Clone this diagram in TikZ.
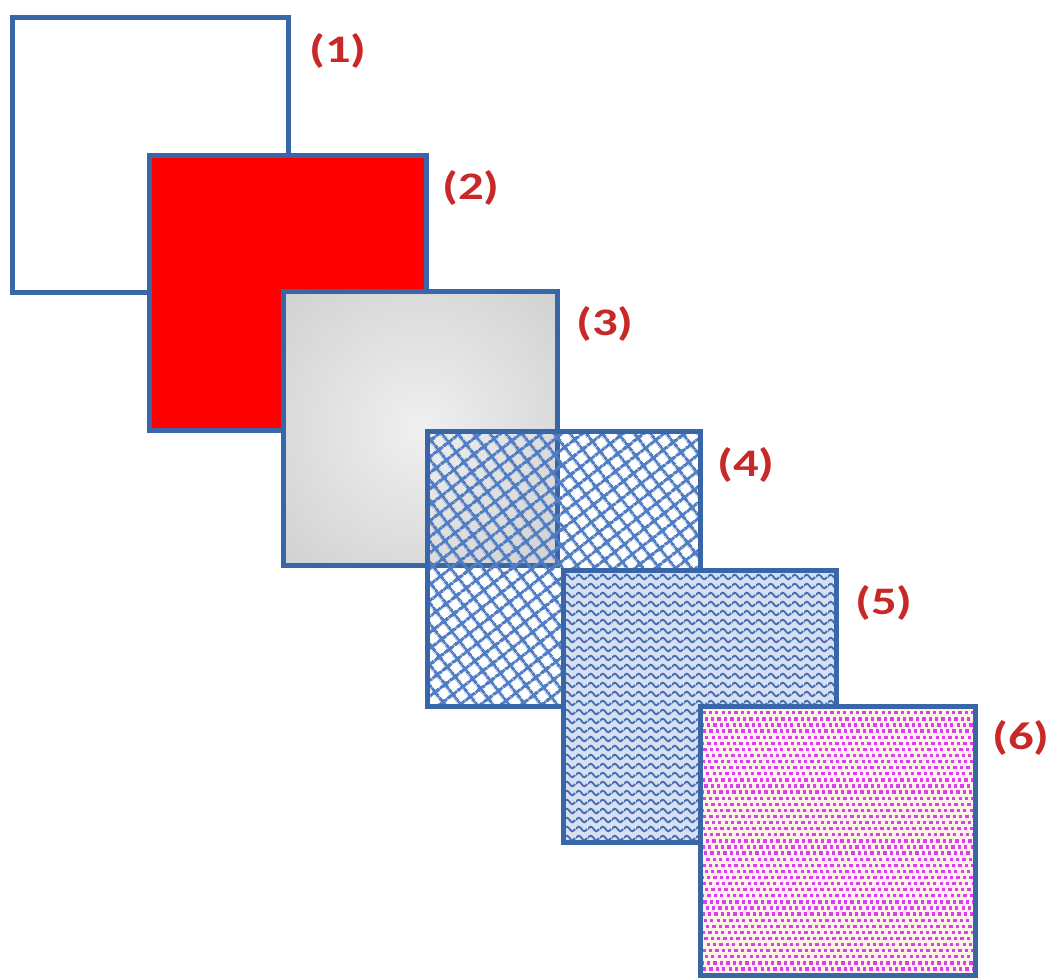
\documentclass[tikz,border=0pt]{standalone}
\usepackage{fontspec}
\usepackage{graphicx}
\setmainfont{Carlito}
\usetikzlibrary{patterns.meta}
\definecolor{bord}{RGB}{56,102,168}
\definecolor{labc}{RGB}{200,40,40}
\definecolor{hatchc}{RGB}{80,125,195}
\definecolor{wavebg}{RGB}{214,224,240}
\definecolor{wavec}{RGB}{70,110,178}
\definecolor{dotbg}{RGB}{255,242,232}
\definecolor{dotc}{RGB}{220,62,240}
\pgfdeclareradialshading{sqthreeshade}{\pgfpoint{0bp}{0bp}}{color(0bp)=(white!94!black); color(50bp)=(white!77!black); color(71bp)=(white!72!black)}
\tikzdeclarepattern{
  name=myhatch, type=uncolored,
  bottom left={(0pt,0pt)}, top right={(12.5pt,12.5pt)},
  tile size={(12.5pt,12.5pt)},
  tile transformation={rotate=38},
  code={
    \pgfsetlinewidth{3.2pt}
    \pgfpathmoveto{\pgfpoint{0pt}{6.25pt}}\pgfpathlineto{\pgfpoint{12.5pt}{6.25pt}}
    \pgfpathmoveto{\pgfpoint{6.25pt}{0pt}}\pgfpathlineto{\pgfpoint{6.25pt}{12.5pt}}
    \pgfusepath{stroke}
  }
}
\tikzdeclarepattern{
  name=mywave, type=uncolored,
  bottom left={(0pt,0pt)}, top right={(12pt,8.5pt)},
  tile size={(12pt,8.5pt)},
  code={
    \pgfsetlinewidth{2pt}
    \pgfpathmoveto{\pgfpoint{0pt}{4.25pt}}
    \pgfpathsine{\pgfpoint{3pt}{2.4pt}}
    \pgfpathcosine{\pgfpoint{3pt}{-2.4pt}}
    \pgfpathsine{\pgfpoint{3pt}{-2.4pt}}
    \pgfpathcosine{\pgfpoint{3pt}{2.4pt}}
    \pgfusepath{stroke}
  }
}
\newcommand{\widelab}[1]{\scalebox{1.3}[1]{#1}}
\begin{document}
\begin{tikzpicture}[x=1pt,y=-1pt,
  sq/.style={draw=bord, line width=5pt},
  labtext/.style={text=labc, font=\fontsize{39}{40}\selectfont\bfseries, inner sep=0pt}]
\useasboundingbox (0,0) rectangle (1048,978);
% squares
\draw[sq, fill=white] (12,17) rectangle (288,292);
\draw[sq, fill=red] (149,155) rectangle (426,430);
\shadedraw[sq, shading=sqthreeshade] (283,291) rectangle (557,565);
\draw[sq, pattern={myhatch}, pattern color=hatchc] (427,431) rectangle (700,706);
\draw[sq, preaction={fill=wavebg}, pattern={mywave}, pattern color=wavec] (563,570) rectangle (836,842);
% square 6: dotted
\fill[dotbg] (700,706) rectangle (975,975);
\begin{scope}
  \clip (700,706) rectangle (975,975);
  \foreach \r in {0,...,44} {
    \pgfmathsetmacro{\off}{mod(\r*2.3,6.4)}
    \foreach \c in {-1,...,43} {
      \fill[dotc] ({700+\off+\c*6.4},{705+\r*6.1}) rectangle ++(3.3,3.3);
    }
  }
\end{scope}
\draw[sq] (700,706) rectangle (975,975);
% labels
\node[labtext] (l1) at (338,51) {\widelab{(1)}};
\node[labtext] (l2) at (471,188) {\widelab{(2)}};
\node[labtext] (l3) at (605,324) {\widelab{(3)}};
\node[labtext] (l4) at (746,465) {\widelab{(4)}};
\node[labtext] (l5) at (884,603) {\widelab{(5)}};
\node[labtext] (l6) at (1021,738) {\widelab{(6)}};
\end{tikzpicture}
\end{document}
